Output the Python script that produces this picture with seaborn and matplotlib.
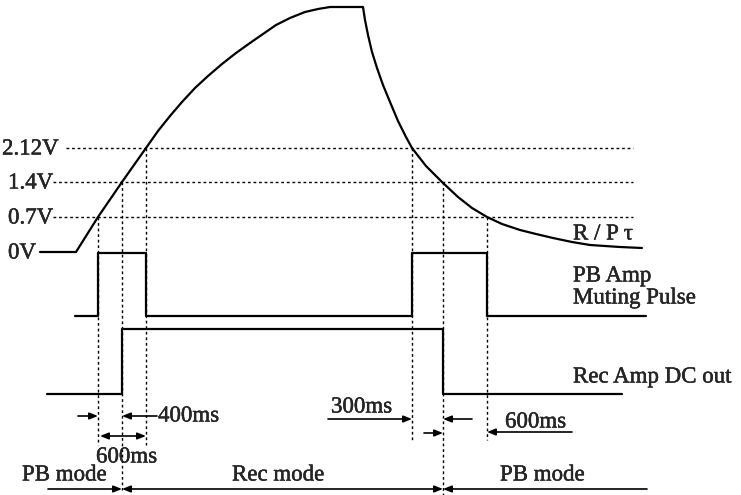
import numpy as np
import pandas as pd
import matplotlib
matplotlib.use("Agg")
import matplotlib.pyplot as plt
import matplotlib.patheffects as pe
import seaborn as sns

# drawing units are the picture's pixels (y grows downward)

# R/P tau voltage curve
curve_x = [40, 76, 98, 122, 146, 158, 170, 182, 195, 208, 222, 236, 250, 263,
           276, 290, 305, 318, 330, 363,
           365, 368, 372, 377, 383, 390, 398, 406, 412, 426, 442, 458, 472, 487,
           502, 520, 536, 553, 572, 590, 620, 642]
curve_y = [252, 252, 217, 182, 148, 131, 116, 102, 88, 76, 64, 53, 43, 34,
           25, 18, 12, 9, 7, 7,
           20, 35, 52, 68, 85, 102, 121, 137, 148, 166, 182, 197, 208, 217,
           224, 230, 234, 238, 242, 245, 247, 248]

# PB amp muting pulse
pb_x = [75, 98, 98, 146, 146, 412, 412, 487, 487, 646]
pb_y = [316, 316, 253, 253, 316, 316, 253, 253, 316, 316]

# Rec amp DC out
rec_x = [47, 122, 122, 443, 443, 622]
rec_y = [394, 394, 329, 329, 394, 394]

# voltage thresholds
level_names = ["2.12V", "1.4V", "0.7V", "0V"]
level_y = [148, 182, 217, 252]
level_label_x = [2, 8, 8, 8]
level_line_start = [66, 53, 53]

# crossing times (vertical dotted guides)
guide_x = [98, 122, 146, 412, 443, 487]
guide_top = [217, 182, 148, 148, 182, 217]
guide_bottom = [445, 490, 445, 440, 495, 440]

signal_names = ["R / P τ", "PB Amp", "Muting Pulse", "Rec Amp DC out"]
signal_y = [234, 276, 298, 377]

mode_names = ["PB mode", "Rec mode", "PB mode"]
mode_label_x = [22, 232, 500]
mode_edges = [48, 122, 443, 647]

sns.set_style("white")
plt.rcParams['font.family'] = ['Liberation Serif', 'DejaVu Serif']
FS = 16.5
heavy = [pe.withStroke(linewidth=0.3, foreground='black')]

fig = plt.figure(figsize=(7.41, 4.95), dpi=100)
ax = fig.add_axes([0, 0, 1, 1])

lw = 1.6
for xs, ys in [(curve_x, curve_y), (pb_x, pb_y), (rec_x, rec_y)]:
    df = pd.DataFrame({'x': xs, 'y': ys})
    sns.lineplot(data=df, x='x', y='y', sort=False, estimator=None,
                 color='black', linewidth=lw, ax=ax)

dot = dict(color='black', linewidth=1.0, linestyle=(0, (2, 2)))
for y0, x0 in zip(level_y[:3], level_line_start):
    ax.plot([x0, 633], [y0, y0], **dot)
for gx, gt, gb in zip(guide_x, guide_top, guide_bottom):
    ax.plot([gx, gx], [gt, gb], **dot)

def label(x, y, s):
    ax.text(x, y, s, fontsize=FS, ha='left', va='center', path_effects=heavy)

for name, lx, ly in zip(level_names, level_label_x, level_y):
    label(lx, ly + 1, name)
for name, sy in zip(signal_names, signal_y):
    label(573, sy, name)

def arrow(x0, x1, y, style='-|>'):
    ax.annotate('', xy=(x1, y), xytext=(x0, y),
                arrowprops=dict(arrowstyle=style + ',head_length=0.5,head_width=0.2',
                                color='black', lw=1.2, shrinkA=0, shrinkB=0))

# timing marks
arrow(78, 98, 416)
arrow(157, 122, 416)
label(158, 416, "400ms")
arrow(100, 146, 436, '<|-|>')
label(96, 457, "600ms")
arrow(328, 412, 419)
label(331, 407, "300ms")
arrow(472, 443, 419)
arrow(424, 443, 433)
arrow(572, 487, 432)
label(505, 422, "600ms")

# mode bar
arrow(mode_edges[0], mode_edges[1], 489)
arrow(mode_edges[1], mode_edges[2], 489, '<|-|>')
arrow(mode_edges[3], mode_edges[2], 489)
for name, mx in zip(mode_names, mode_label_x):
    label(mx, 475, name)

ax.set_xlim(0, 741)
ax.set_ylim(495, 0)
ax.set_axis_off()
fig.savefig('out.png', dpi=100)
